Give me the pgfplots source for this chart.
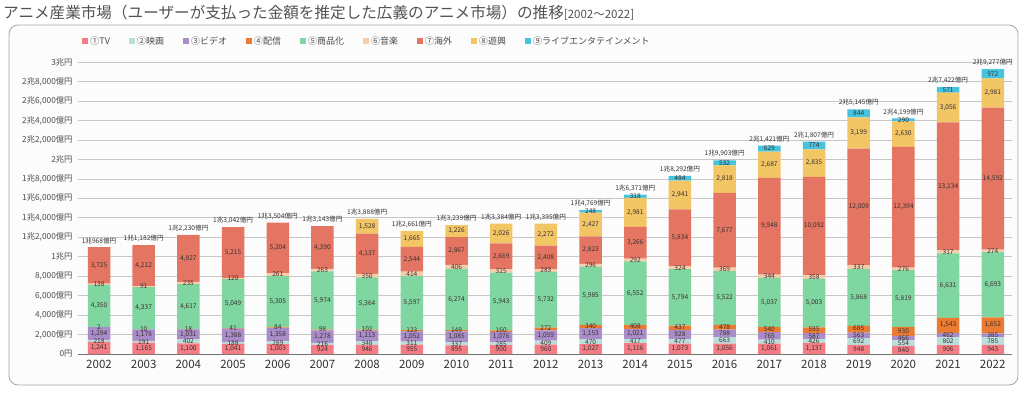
\documentclass[border=0pt]{standalone}
\usepackage{fontspec}
\setmainfont{Noto Sans CJK JP}
\usepackage{pgfplots}
\usepackage{pgfplotstable}
\pgfplotsset{compat=1.18}

\definecolor{ctv}{HTML}{F47C84}
\definecolor{cmov}{HTML}{BADFDB}
\definecolor{cvid}{HTML}{A98DC8}
\definecolor{chai}{HTML}{EB7B30}
\definecolor{csho}{HTML}{80D6A0}
\definecolor{cmus}{HTML}{F6CDAA}
\definecolor{ckai}{HTML}{E37562}
\definecolor{cyuk}{HTML}{F2C565}
\definecolor{cliv}{HTML}{46C4DD}
\definecolor{lblc}{HTML}{3A3030}

\pgfplotstableread{
year tv movie video haishin shohin music kaigai yukyo live label
2002 1241 218 1294 2 4350 138 3725 0 0 {1兆968億円}
2003 1165 191 1176 10 4337 91 4212 0 0 {1兆1,182億円}
2004 1100 402 1031 18 4617 235 4827 0 0 {1兆2,230億円}
2005 1041 188 1388 41 5049 120 5215 0 0 {1兆3,042億円}
2006 1003 289 1358 84 5305 261 5204 0 0 {1兆3,504億円}
2007 924 216 1278 98 5974 263 4390 0 0 {1兆3,143億円}
2008 946 348 1113 102 5364 350 4137 1528 0 {1兆3,888億円}
2009 955 311 1052 123 5597 414 2544 1665 0 {1兆2,661億円}
2010 895 337 1085 149 6274 406 2867 1226 0 {1兆3,239億円}
2011 900 285 1076 160 5943 325 2669 2026 0 {1兆3,384億円}
2012 960 409 1059 272 5732 283 2408 2272 0 {1兆3,395億円}
2013 1027 470 1153 340 5985 296 2823 2427 248 {1兆4,769億円}
2014 1116 417 1021 408 6552 292 3266 2981 318 {1兆6,371億円}
2015 1073 477 928 437 5794 324 5834 2941 484 {1兆8,292億円}
2016 1056 663 788 478 5522 369 7677 2818 532 {1兆9,903億円}
2017 1061 410 765 540 5037 344 9948 2687 629 {2兆1,421億円}
2018 1137 426 587 595 5003 358 10092 2835 774 {2兆1,807億円}
2019 948 692 563 685 5868 337 12009 3199 844 {2兆5,145億円}
2020 840 554 466 930 5819 276 12394 2630 290 {2兆4,199億円}
2021 906 802 462 1543 6631 317 13134 3056 571 {2兆7,422億円}
2022 943 785 385 1652 6693 274 14592 2981 972 {2兆9,277億円}
}\data

\pgfplotsset{
  base/.style={
    at={(78pt,45pt)}, anchor=south west, scale only axis,
    width=934pt, height=292pt,
    xmin=2001.53, xmax=2022.43, ymin=0, ymax=30000, clip=false,
  },
}
\newcommand\lblfont{\fontsize{6.6}{7}\selectfont}
\newcommand\seglabel[3][]{%
  \addplot[draw=none, mark=none, #1, nodes near coords={\pgfmathprintnumber[fixed,precision=0,1000 sep={,},assume math mode=true]{\pgfplotspointmeta}},
    point meta=explicit,
    every node near coord/.append style={font=\lblfont, text=lblc, inner sep=0pt, anchor=center}]
    table[x=year, y expr={#2}, meta=#3]{\data};}

\begin{document}
\begin{tikzpicture}[x=1pt,y=1pt]
\useasboundingbox (0,0) rectangle (1024,399);
\draw[rounded corners=9pt, draw=black!35, line width=0.8pt, fill=black!1] (9,14) rectangle (1018,374);
\node[anchor=west, inner sep=0pt, text=black!68] at (3,386)
  {\fontsize{15.6}{17}\selectfont アニメ産業市場（ユーザーが支払った金額を推定した広義のアニメ市場）の推移{\fontsize{11.5}{12}\selectfont [2002～2022]}};

\begin{axis}[base,
  ybar stacked, bar width=22.5pt,
  scaled y ticks=false,
  axis x line*=bottom, axis y line*=left,
  y axis line style={draw=none},
  x axis line style={draw=black!55, line width=0.9pt},
  major tick length=0pt,
  ymajorgrids, grid style={draw=black!22, line width=0.6pt},
  ytick={0,2000,...,30000},
  yticklabels={0円,{2,000億円},{4,000億円},{6,000億円},{8,000億円},1兆円,{1兆2,000億円},{1兆4,000億円},{1兆6,000億円},{1兆8,000億円},2兆円,{2兆2,000億円},{2兆4,000億円},{2兆6,000億円},{2兆8,000億円},3兆円},
  yticklabel style={font=\fontsize{8.3}{9}\selectfont, text=black!70, xshift=-2pt},
  xtick={2002,...,2022},
  xticklabels={2002,2003,2004,2005,2006,2007,2008,2009,2010,2011,2012,2013,2014,2015,2016,2017,2018,2019,2020,2021,2022},
  xticklabel style={font=\fontsize{11.5}{12}\selectfont, text=black!80, yshift=-3pt},
  legend columns=9,
  legend style={at={(axis description cs:0.004,1.072)}, anchor=west, draw=none, fill=none,
    font=\fontsize{9}{10}\selectfont, text=black!70, inner sep=0pt,
    /tikz/every even column/.append style={column sep=16.5pt}},
  legend image code/.code={\fill[#1] (0pt,-3.2pt) rectangle (6.5pt,3.3pt);},
  legend cell align=left,
]
\addplot[draw=none, fill=ctv] table[x=year,y=tv]{\data};
\addplot[draw=none, fill=cmov] table[x=year,y=movie]{\data};
\addplot[draw=none, fill=cvid] table[x=year,y=video]{\data};
\addplot[draw=none, fill=chai] table[x=year,y=haishin]{\data};
\addplot[draw=none, fill=csho] table[x=year,y=shohin]{\data};
\addplot[draw=none, fill=cmus] table[x=year,y=music]{\data};
\addplot[draw=none, fill=ckai] table[x=year,y=kaigai]{\data};
\addplot[draw=none, fill=cyuk] table[x=year,y=yukyo]{\data};
\addplot[draw=none, fill=cliv] table[x=year,y=live]{\data};
\legend{①TV,②映画,③ビデオ,④配信,⑤商品化,⑥音楽,⑦海外,⑧遊興,⑨ライブエンタテインメント}
\end{axis}

\begin{axis}[base, hide axis]
\seglabel{0.5*\thisrow{tv}}{tv}
\seglabel{\thisrow{tv}+0.5*\thisrow{movie}}{movie}
\seglabel{\thisrow{tv}+\thisrow{movie}+0.5*\thisrow{video}}{video}
\seglabel{\thisrow{tv}+\thisrow{movie}+\thisrow{video}+0.5*\thisrow{haishin}+60}{haishin}
\seglabel{\thisrow{tv}+\thisrow{movie}+\thisrow{video}+\thisrow{haishin}+0.5*\thisrow{shohin}}{shohin}
\seglabel{\thisrow{tv}+\thisrow{movie}+\thisrow{video}+\thisrow{haishin}+\thisrow{shohin}+0.5*\thisrow{music}}{music}
\seglabel{\thisrow{tv}+\thisrow{movie}+\thisrow{video}+\thisrow{haishin}+\thisrow{shohin}+\thisrow{music}+0.5*\thisrow{kaigai}}{kaigai}
\seglabel[restrict x to domain=2008:2022]{\thisrow{tv}+\thisrow{movie}+\thisrow{video}+\thisrow{haishin}+\thisrow{shohin}+\thisrow{music}+\thisrow{kaigai}+0.5*\thisrow{yukyo}}{yukyo}
\seglabel[restrict x to domain=2013:2022]{\thisrow{tv}+\thisrow{movie}+\thisrow{video}+\thisrow{haishin}+\thisrow{shohin}+\thisrow{music}+\thisrow{kaigai}+\thisrow{yukyo}+0.5*\thisrow{live}}{live}
\addplot[draw=none, mark=none, nodes near coords, point meta=explicit symbolic,
  every node near coord/.append style={font=\fontsize{6.6}{7}\selectfont, text=black!80, anchor=south, inner sep=0pt, yshift=3pt}]
  table[x=year, y expr={\thisrow{tv}+\thisrow{movie}+\thisrow{video}+\thisrow{haishin}+\thisrow{shohin}+\thisrow{music}+\thisrow{kaigai}+\thisrow{yukyo}+\thisrow{live}}, meta=label]{\data};
\end{axis}
\end{tikzpicture}
\end{document}
